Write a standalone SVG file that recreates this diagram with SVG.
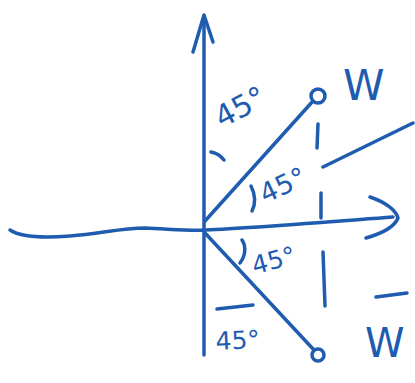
<svg xmlns="http://www.w3.org/2000/svg" width="415" height="383" viewBox="0 0 415 383">
<style>
.s{fill:none;stroke:#1f5cb0;stroke-width:3.5;stroke-linecap:round;stroke-linejoin:round}
.t{fill:#1f5cb0;font-family:"DejaVu Sans",sans-serif}
</style>
<rect width="415" height="383" fill="#fff"/>
<g id="axes">
<path class="s" d="M204,355 L204,16"/>
<path class="s" d="M193,52 L204,15 L213,42"/>
<path class="s" d="M10,230 C22,238 45,238 70,236 C100,234 120,228 145,228 C170,229 190,231 205,230 C250,228 300,224 393,217"/>
<path class="s" d="M370,197 C385,202 396,210 398,218 C394,228 380,234 366,238"/>
</g>
<g id="vectors">
<path class="s" d="M205,221 L313,101"/>
<circle class="s" cx="318" cy="96" r="7"/>
<path class="s" d="M205,233 L314,350"/>
<circle class="s" cx="318" cy="355" r="6"/>
</g>
<g id="marks">
<path class="s" d="M211,152 C216,153 221,156 224,160"/>
<path class="s" d="M251,186 C255,194 256,203 252,211"/>
<path class="s" d="M242,240 C246,246 246,255 240,263"/>
<path class="s" d="M318,124 L317,148"/>
<path class="s" d="M321,193 L321,218"/>
<path class="s" d="M323,252 L325,306"/>
<path class="s" d="M323,167 L413,123"/>
<path class="s" d="M217,309 L253,305"/>
<path class="s" d="M376,297 L407,293"/>
</g>
<g id="labels">
<text class="t" x="220" y="128" font-size="30" transform="rotate(-28 222 125)">45°</text>
<text class="t" x="264" y="203" font-size="27" transform="rotate(-25 266 201)">45°</text>
<text class="t" x="254" y="274" font-size="25" transform="rotate(-15 256 272)">45°</text>
<text class="t" x="216" y="350" font-size="25" transform="rotate(-3 218 350)">45°</text>
<text class="t" x="343" y="100" font-size="42">W</text>
<text class="t" x="365" y="357" font-size="40">W</text>
</g>
</svg>
